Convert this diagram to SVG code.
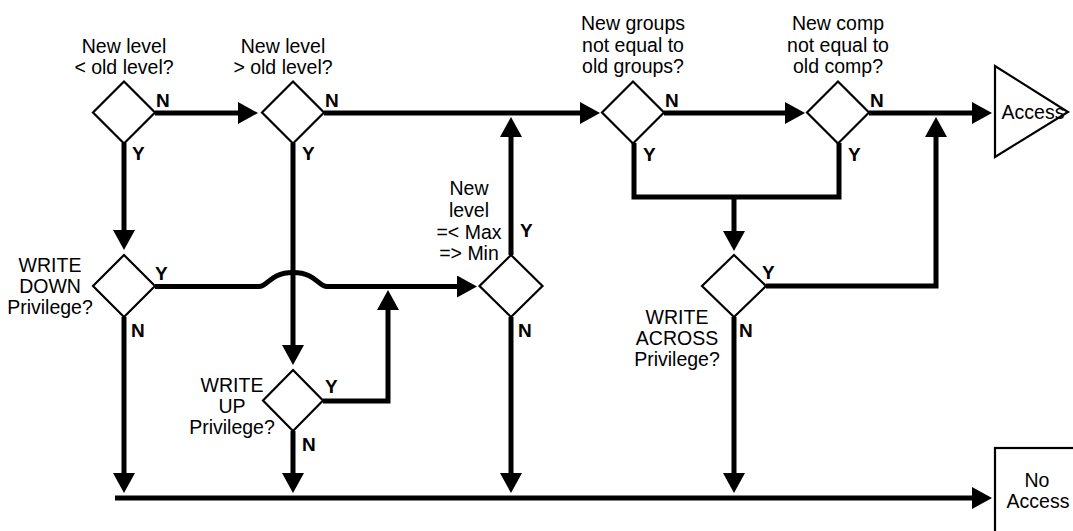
<svg xmlns="http://www.w3.org/2000/svg" width="1073" height="531" viewBox="0 0 1073 531">
<style>
.bg{fill:#fff}
.shape{fill:#fff;stroke:#000;stroke-width:2.2}
.conn{fill:none;stroke:#000;stroke-width:5;stroke-linejoin:miter}
.arr{marker-end:url(#ah)}
text{font-family:"Liberation Sans",Arial,Helvetica,sans-serif;fill:#000}
.t{font-size:19.5px;text-anchor:middle}
.l{font-size:19px;font-weight:bold}
</style>
<defs>
<marker id="ah" markerUnits="userSpaceOnUse" markerWidth="22" markerHeight="22" viewBox="0 0 20 22" refX="10" refY="11" orient="auto">
<path d="M0,0 L20,11 L0,22 z" fill="#000"/>
</marker>
</defs>
<rect class="bg" x="0" y="0" width="1073" height="531"/>
<g id="connectors">
<path class="conn arr" d="M155,113 H248"/>
<path class="conn arr" d="M324,113 H590"/>
<path class="conn arr" d="M664,113 H795"/>
<path class="conn arr" d="M869,113 H982"/>
<path class="conn arr" d="M124,143 V240"/>
<path class="conn arr" d="M293,143 V355"/>
<path class="conn arr" d="M155,286.5 H259 C268,286.5 270,272.5 293,272.5 C316,272.5 318,286.5 327,286.5 H467"/>
<path class="conn arr" d="M323,401 H388 V300"/>
<path class="conn arr" d="M511,255 V127"/>
<path class="conn" d="M634,143 V197 H839 V143"/>
<path class="conn arr" d="M734,197 V241"/>
<path class="conn arr" d="M766,286 H936 V127"/>
<path class="conn arr" d="M124,317 V483"/>
<path class="conn arr" d="M293,431 V483"/>
<path class="conn arr" d="M511,317 V483"/>
<path class="conn arr" d="M734,317 V483"/>
<path class="conn arr" d="M115,498 H982"/>
</g>
<g id="d1">
<polygon class="shape" points="124,81.5 155,112.5 124,143.5 93,112.5"/>
<text class="t" x="124" y="53">New level</text>
<text class="t" x="124" y="74">&lt; old level?</text>
<text class="l" x="156" y="107">N</text>
<text class="l" x="132" y="160">Y</text>
</g>
<g id="d2">
<polygon class="shape" points="293,81.5 324,112.5 293,143.5 262,112.5"/>
<text class="t" x="283" y="53">New level</text>
<text class="t" x="283" y="74">&gt; old level?</text>
<text class="l" x="325" y="107">N</text>
<text class="l" x="302" y="160">Y</text>
</g>
<g id="d3">
<polygon class="shape" points="633,81.5 664,112.5 633,143.5 602,112.5"/>
<text class="t" x="633" y="30">New groups</text>
<text class="t" x="633" y="51.5">not equal to</text>
<text class="t" x="633" y="73">old groups?</text>
<text class="l" x="665" y="107">N</text>
<text class="l" x="643" y="161">Y</text>
</g>
<g id="d4">
<polygon class="shape" points="838,81.5 869,112.5 838,143.5 807,112.5"/>
<text class="t" x="838" y="30">New comp</text>
<text class="t" x="838" y="51.5">not equal to</text>
<text class="t" x="838" y="73">old comp?</text>
<text class="l" x="870" y="107">N</text>
<text class="l" x="848" y="161">Y</text>
</g>
<g id="d5">
<polygon class="shape" points="124,255 155,286 124,317 93,286"/>
<text class="t" x="50" y="272">WRITE</text>
<text class="t" x="50" y="293">DOWN</text>
<text class="t" x="50" y="314">Privilege?</text>
<text class="l" x="155" y="280">Y</text>
<text class="l" x="131" y="337">N</text>
</g>
<g id="d6">
<polygon class="shape" points="511,255 542.5,286 511,317 479.5,286"/>
<text class="t" x="469" y="195">New</text>
<text class="t" x="469" y="217">level</text>
<text class="t" x="469" y="239">=&lt; Max</text>
<text class="t" x="469" y="260">=&gt; Min</text>
<text class="l" x="520" y="237">Y</text>
<text class="l" x="518" y="337">N</text>
</g>
<g id="d7">
<polygon class="shape" points="734,255 766,286 734,317 702,286"/>
<text class="t" x="677" y="324">WRITE</text>
<text class="t" x="677" y="345">ACROSS</text>
<text class="t" x="677" y="366">Privilege?</text>
<text class="l" x="762" y="279">Y</text>
<text class="l" x="739" y="337">N</text>
</g>
<g id="d8">
<polygon class="shape" points="293,370 323,400.5 293,431 263,400.5"/>
<text class="t" x="232" y="392">WRITE</text>
<text class="t" x="232" y="413">UP</text>
<text class="t" x="232" y="434">Privilege?</text>
<text class="l" x="325" y="393">Y</text>
<text class="l" x="302" y="451">N</text>
</g>
<g id="access">
<polygon class="shape" points="995,66 995,157 1068,112"/>
<text class="t" x="1033" y="119">Access</text>
</g>
<g id="noaccess">
<rect class="shape" x="995" y="448" width="100" height="100"/>
<text class="t" x="1037" y="487">No</text>
<text class="t" x="1038" y="508">Access</text>
</g>
</svg>
